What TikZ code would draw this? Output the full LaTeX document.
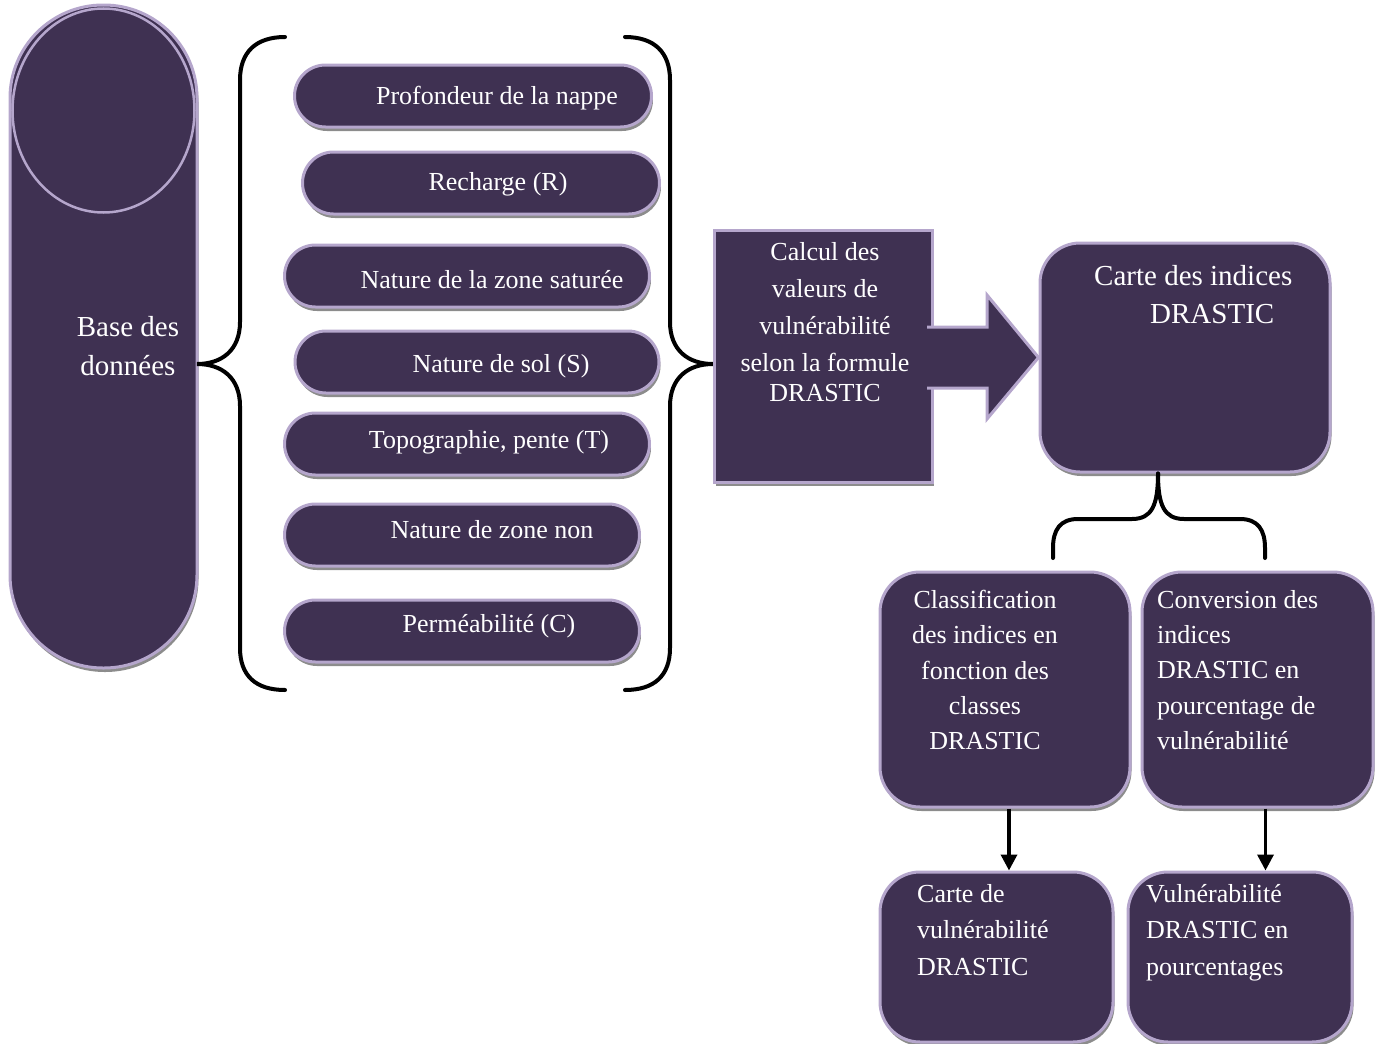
\documentclass[tikz,border=0pt]{standalone}
\usepackage{fontspec}
\setmainfont{Liberation Serif}
\usetikzlibrary{shadows,arrows.meta}

\definecolor{boxfill}{RGB}{63,49,82}
\definecolor{boxedge}{RGB}{181,166,204}

\tikzset{
  shaded/.style={fill=boxfill, draw=boxedge, line width=3pt,
    drop shadow={shadow xshift=1.5pt, shadow yshift=-4pt, fill=black, opacity=0.45}},
  databox/.style={shaded, rounded corners=93pt, inner sep=0pt},
  pill/.style={shaded, rounded corners=31pt, minimum height=62pt, inner sep=0pt},
  calcbox/.style={shaded, inner sep=0pt},
  roundbox/.style={shaded, rounded corners=40pt, inner sep=0pt},
  txt/.style={text=white, inner sep=0pt, font=\fontsize{26}{36}\selectfont},
  bigtxt/.style={txt, font=\fontsize{29}{38.5}\selectfont},
  brace/.style={line width=4pt, line cap=round},
  flow/.style={line width=3.5pt, -{Triangle[width=16pt,length=16pt]}},
  blockarrow/.style={fill=boxfill, draw=boxedge, line width=3pt}
}

\begin{document}
\begin{tikzpicture}[x=1pt, y=-1pt]
	\useasboundingbox (0,0) rectangle (1382,1044);
	% base de donnees
	\node[databox, minimum width=187pt, minimum height=663pt] (base) at (103.5,336.5) {};
	\draw[boxedge, line width=2.5pt] (base.north) ++(0,107) ellipse [x radius=91pt, y radius=102pt];
	\node[bigtxt, align=center] (tbase) at (128,346) {Base des\\données};
	% parametres DRASTIC
	\foreach \i/\cx/\cy/\w/\tx/\ty/\lbl in {
		1/473/96/357/497/98/{Profondeur de la nappe},
		2/481/183/357/498/184/{Recharge (R)},
		3/467/276/365/492/280/{Nature de la zone saturée},
		4/477/362/364/501/366/{Nature de sol (S)},
		5/467/444/365/489/442/{Topographie, pente (T)},
		6/462/535/355/492/530/{Nature de zone non},
		7/462/631/355/489/626/{Perméabilité (C)}}
	{
		\node[pill, minimum width=\w pt] (p\i) at (\cx,\cy) {};
		\node[txt] (t\i) at (\tx,\ty) {\lbl};
	}
	% accolades
	\coordinate (ltip) at (197,364);
	\coordinate (rtip) at (713,364);
	\draw[brace] (285,37) .. controls (256,37) and (240,52) .. (240,80) -- (240,322)
		.. controls (240,350) and (222,364) .. (ltip)
		.. controls (222,364) and (240,378) .. (240,406) -- (240,648)
		.. controls (240,676) and (256,690) .. (285,690);
	\draw[brace] (625,37) .. controls (654,37) and (670,52) .. (670,80) -- (670,322)
		.. controls (670,350) and (688,364) .. (rtip)
		.. controls (688,364) and (670,378) .. (670,406) -- (670,648)
		.. controls (670,676) and (654,690) .. (625,690);
	% calcul
	\node[calcbox, minimum width=218pt, minimum height=252pt] (calc) at (823,356) {};
	\node[txt, align=center, anchor=north, font=\fontsize{26}{37}\selectfont] (tcalc) at (825,242)
		{Calcul des\\valeurs de\\vulnérabilité\\selon la formule\\[-7pt]DRASTIC};
	% carte des indices
	\node[roundbox, minimum width=290pt, minimum height=229pt] (carte) at (1185,357.5) {};
	\node[bigtxt, align=left, anchor=north west] (tcarte) at (1094,265)
		{Carte des indices\\\hspace*{56pt}DRASTIC};
	\draw[blockarrow] (927,327) -- (987,327) -- (987,295) -- (carte.west)
		-- (987,419) -- (987,388) -- (927,388);
	% accolade basse
	\coordinate (btip) at (1158,0 |- carte.south);
	\draw[brace] (btip) .. controls (1158,505) and (1152,519) .. (1132,519) -- (1078,519)
		.. controls (1060,519) and (1053,530) .. (1053,548) -- (1053,558);
	\draw[brace] (btip) .. controls (1158,505) and (1164,519) .. (1184,519) -- (1240,519)
		.. controls (1258,519) and (1265,530) .. (1265,548) -- (1265,558);
	% classification / conversion
	\node[roundbox, minimum width=250pt, minimum height=235pt] (class) at (1005,689.5) {};
	\node[txt, align=center, anchor=north, font=\fontsize{26}{35.3}\selectfont] (tclass) at (985,590)
		{Classification\\des indices en\\fonction des\\classes\\DRASTIC};
	\node[roundbox, minimum width=231pt, minimum height=235pt] (conv) at (1257.5,689.5) {};
	\node[txt, align=left, anchor=north west, font=\fontsize{26}{35.3}\selectfont] (tconv) at (1157,590)
		{Conversion des\\indices\\DRASTIC en\\pourcentage de\\vulnérabilité};
	% resultats
	\node[roundbox, minimum width=233pt, minimum height=170pt] (cartevul) at (996.5,957) {};
	\node[txt, align=left, anchor=north west, font=\fontsize{26}{36.5}\selectfont] (tcartevul) at (917,884)
		{Carte de\\vulnérabilité\\DRASTIC};
	\node[roundbox, minimum width=224pt, minimum height=170pt] (pct) at (1240,957) {};
	\node[txt, align=left, anchor=north west, font=\fontsize{26}{36.5}\selectfont] (tpct) at (1146,884)
		{Vulnérabilité\\DRASTIC en\\pourcentages};
	% fleches
	\coordinate (a1) at ([xshift=4pt]class.south);
	\coordinate (a2) at ([xshift=8pt]conv.south);
	\draw[flow] (a1) -- (a1 |- cartevul.north);
	\draw[flow] (a2) -- (a2 |- pct.north);
\end{tikzpicture}
\end{document}
